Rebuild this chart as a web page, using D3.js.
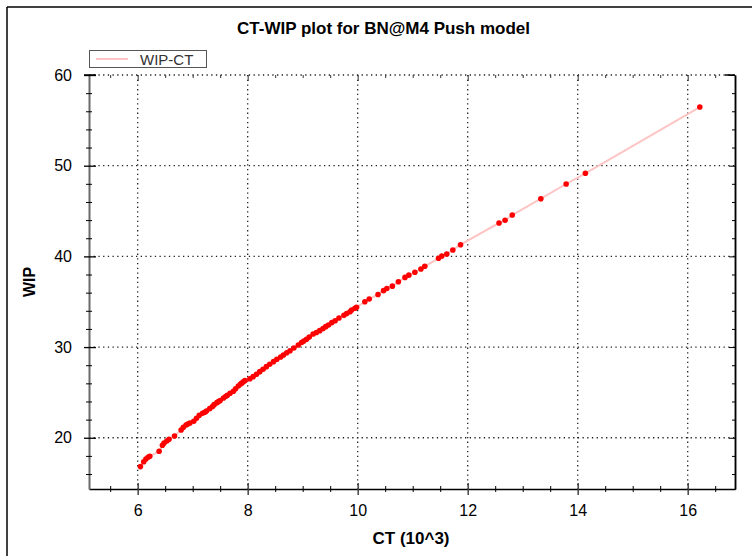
<!DOCTYPE html>
<html><head><meta charset="utf-8">
<script src="https://cdn.jsdelivr.net/npm/d3@7"></script>
<style>
body{margin:0;background:#fff;}
svg{display:block;font-family:Arial,"Liberation Sans",sans-serif;}
</style></head><body>
<svg id="c" width="752" height="556"></svg>
<script>
// data
const ctValues = [6.05,6.11,6.15,6.19,6.22,6.39,6.45,6.48,6.53,6.57,6.67,6.79,6.83,6.88,6.91,6.95,
 7.02,7.07,7.12,7.18,7.22,7.25,7.31,7.36,7.39,7.44,7.47,7.5,7.56,7.6,7.63,7.68,7.74,7.78,7.83,7.87,7.89,7.92,7.95,
 8.04,8.1,8.16,8.22,8.28,8.34,8.4,8.47,8.53,8.6,8.65,8.71,8.77,8.84,8.92,8.98,
 9.02,9.07,9.12,9.19,9.25,9.31,9.37,9.42,9.47,9.53,9.59,9.66,9.75,9.8,9.86,9.89,9.95,9.98,
 10.13,10.21,10.37,10.47,10.53,10.63,10.74,10.86,10.93,11.04,11.15,11.22,11.47,11.53,11.62,11.73,11.87,
 12.57,12.68,12.81,13.33,13.79,14.14,16.22];
const wipValues = [16.82,17.36,17.66,17.85,17.96,18.51,19.17,19.43,19.65,19.83,20.2,20.86,21.16,21.41,21.52,21.63,
 21.82,22.15,22.48,22.7,22.82,22.95,23.21,23.45,23.65,23.87,24.0,24.1,24.39,24.55,24.69,24.9,25.13,25.4,25.7,25.93,26.0,26.18,26.3,
 26.5,26.74,27.0,27.29,27.55,27.84,28.1,28.39,28.65,28.9,29.13,29.37,29.6,29.9,30.23,30.5,
 30.66,30.86,31.1,31.44,31.6,31.81,32.05,32.25,32.44,32.7,32.91,33.2,33.5,33.7,33.9,34.09,34.28,34.39,
 35.0,35.3,35.8,36.22,36.46,36.72,37.2,37.68,37.93,38.25,38.61,38.91,39.79,40.04,40.26,40.71,41.29,
 43.68,43.98,44.56,46.36,47.98,49.16,56.47];
const xMajorTicks = [6,8,10,12,14,16];
const yMajorTicks = [20,30,40,50,60];
const xDomain = [5.115, 16.86];
const yDomain = [14.35, 60];
const titleText = "CT-WIP plot for BN@M4 Push model";
const xTitle = "CT (10^3)";
const yTitle = "WIP";
const seriesName = "WIP-CT";

const L=89, R=735, T=75, B=489;
const svg = d3.select("#c");
const x = d3.scaleLinear().domain(xDomain).range([L,R]);
const y = d3.scaleLinear().domain(yDomain).range([B,T]);
const xMinor = d3.range(5.5,16.9,0.5).filter(v=>!xMajorTicks.includes(v));
const yMinor = d3.range(16,60,2).filter(v=>!yMajorTicks.includes(v));

// outer frame (top & left)
svg.append("line").attr("x1",7).attr("y1",7).attr("x2",752).attr("y2",7).attr("stroke","#000").attr("stroke-width",1.5);
svg.append("line").attr("x1",7).attr("y1",7).attr("x2",7).attr("y2",556).attr("stroke","#000").attr("stroke-width",1.5);

// title
svg.append("text").attr("x",383.5).attr("y",34).attr("text-anchor","middle")
  .attr("font-weight","bold").attr("font-size",17).attr("fill","#000").text(titleText);

// grid
const grid = svg.append("g").attr("stroke","#222").attr("stroke-width",1.3).attr("stroke-dasharray","1.3,3.4");
xMajorTicks.forEach(v=>grid.append("line").attr("x1",x(v)).attr("x2",x(v)).attr("y1",T).attr("y2",B));
yMajorTicks.forEach(v=>grid.append("line").attr("x1",L).attr("x2",R).attr("y1",y(v)).attr("y2",y(v)));

// right axis (solid, ticks inward)
const gr = svg.append("g").attr("transform",`translate(${R},0)`)
  .call(d3.axisLeft(y).tickValues(yMajorTicks).tickSizeInner(6).tickSizeOuter(0).tickFormat(""));
const gr2 = svg.append("g").attr("transform",`translate(${R},0)`)
  .call(d3.axisLeft(y).tickValues(yMinor).tickSizeInner(3).tickSizeOuter(0).tickFormat(""));
[gr,gr2].forEach(g=>{g.select(".domain").attr("stroke","#000").attr("stroke-width",1.5);g.selectAll(".tick line").attr("stroke","#000");});

// top axis ticks (inward)
const gt = svg.append("g").attr("transform",`translate(0,${T})`)
  .call(d3.axisTop(x).tickValues(xMajorTicks).tickSizeInner(-6).tickSizeOuter(0).tickFormat(""));
const gt2 = svg.append("g").attr("transform",`translate(0,${T})`)
  .call(d3.axisTop(x).tickValues(xMinor).tickSizeInner(-3).tickSizeOuter(0).tickFormat(""));
[gt,gt2].forEach(g=>{g.select(".domain").remove();g.selectAll(".tick line").attr("stroke","#333");});
svg.append("line").attr("x1",84).attr("x2",96).attr("y1",T).attr("y2",T).attr("stroke","#000").attr("stroke-width",1.5);
svg.append("line").attr("x1",R-10).attr("x2",R).attr("y1",T).attr("y2",T).attr("stroke","#000").attr("stroke-width",1.5);

// bottom axis
const gb = svg.append("g").attr("transform",`translate(0,${B})`)
  .call(d3.axisBottom(x).tickValues(xMajorTicks).tickSizeInner(6).tickSizeOuter(0).tickFormat(d3.format("d")));
gb.selectAll(".tick line").attr("y1",-6).attr("y2",6).attr("stroke","#444").attr("stroke-width",1.5);
gb.selectAll(".tick text").attr("y",16).attr("font-size",16).attr("fill","#000").attr("font-family",null);
gb.select(".domain").attr("stroke","#000").attr("stroke-width",1.5);
const gb2 = svg.append("g").attr("transform",`translate(0,${B})`)
  .call(d3.axisBottom(x).tickValues(xMinor).tickSizeInner(3).tickSizeOuter(0).tickFormat(""));
gb2.selectAll(".tick line").attr("y1",-3).attr("y2",3).attr("stroke","#000");
gb2.select(".domain").remove();

// left axis
const gl = svg.append("g").attr("transform",`translate(${L},0)`)
  .call(d3.axisLeft(y).tickValues(yMajorTicks).tickSizeInner(6).tickSizeOuter(0).tickFormat(d3.format("d")));
gl.selectAll(".tick line").attr("x1",-5).attr("x2",7).attr("stroke","#000").attr("stroke-width",1.3);
gl.selectAll(".tick text").attr("x",-17).attr("font-size",16).attr("fill","#000").attr("font-family",null);
gl.select(".domain").attr("stroke","#6a6a6a").attr("stroke-width",2);
const gl2 = svg.append("g").attr("transform",`translate(${L},0)`)
  .call(d3.axisLeft(y).tickValues(yMinor).tickSizeInner(3).tickSizeOuter(0).tickFormat(""));
gl2.selectAll(".tick line").attr("x1",-3).attr("x2",3).attr("stroke","#000");
gl2.select(".domain").remove();

// axis titles
svg.append("text").attr("x",411).attr("y",544).attr("text-anchor","middle")
  .attr("font-weight","bold").attr("font-size",17).text(xTitle);
svg.append("text").attr("transform","translate(35,282) rotate(-90)").attr("text-anchor","middle")
  .attr("font-weight","bold").attr("font-size",16).text(yTitle);

// series
const pts = ctValues.map((c,i)=>[c,wipValues[i]]);
svg.append("path").datum(pts).attr("fill","none").attr("stroke","#ffc4c4").attr("stroke-width",2)
  .attr("d", d3.line().x(d=>x(d[0])).y(d=>y(d[1])));
svg.append("g").selectAll("circle").data(pts).join("circle")
  .attr("cx",d=>x(d[0])).attr("cy",d=>y(d[1])).attr("r",2.8).attr("fill","#ff0000");

// legend
svg.append("rect").attr("x",89.5).attr("y",50.5).attr("width",117).attr("height",17)
  .attr("fill","#fff").attr("stroke","#555").attr("stroke-width",1);
svg.append("line").attr("x1",96).attr("x2",128).attr("y1",59).attr("y2",59).attr("stroke","#ffc4c4").attr("stroke-width",2);
svg.append("text").attr("x",140).attr("y",64.5).attr("font-size",15).attr("fill","#333").text(seriesName);
</script>
</body></html>
